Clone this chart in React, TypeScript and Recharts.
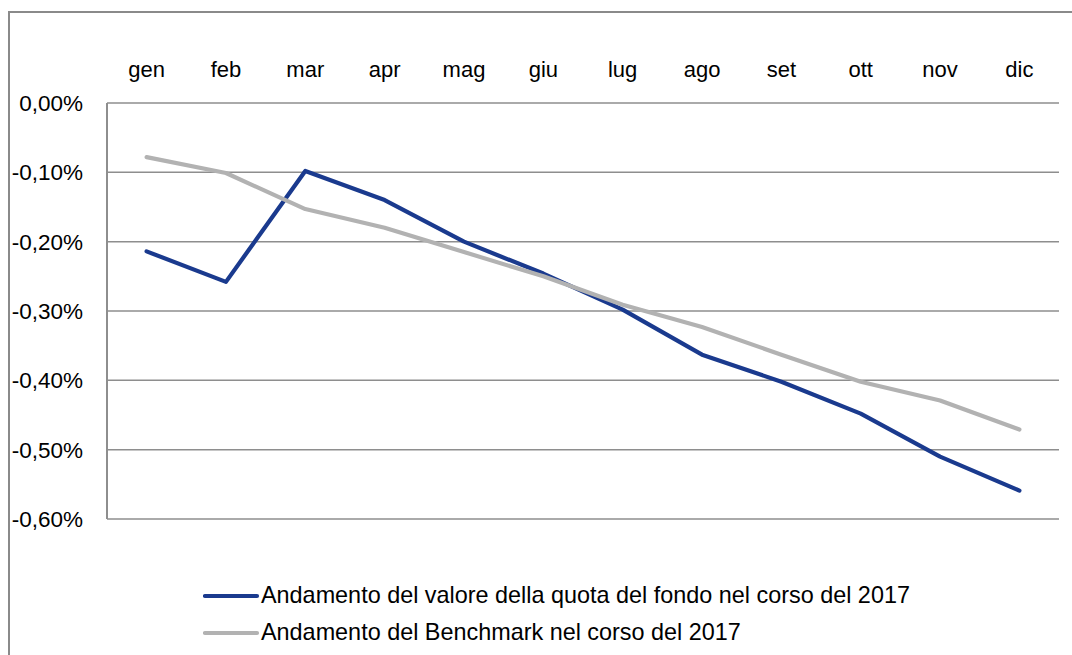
import React from 'react';
import { LineChart, Line, XAxis, YAxis, CartesianGrid, Legend } from 'recharts';

const months = ['gen', 'feb', 'mar', 'apr', 'mag', 'giu', 'lug', 'ago', 'set', 'ott', 'nov', 'dic'];
const fundValues = [-0.214, -0.258, -0.098, -0.140, -0.200, -0.246, -0.298, -0.363, -0.402, -0.448, -0.510, -0.559];
const benchmarkValues = [-0.078, -0.101, -0.153, -0.180, -0.215, -0.250, -0.291, -0.323, -0.363, -0.402, -0.429, -0.471];
const yTicks = [0, -0.1, -0.2, -0.3, -0.4, -0.5, -0.6];
const fundLabel = 'Andamento del valore della quota del fondo nel corso del 2017';
const benchLabel = 'Andamento del Benchmark nel corso del 2017';

const data = months.map((m, i) => ({ month: m, fund: fundValues[i], bench: benchmarkValues[i] }));

const FONT = '"Liberation Sans", Arial, sans-serif';
const BLUE = '#1a3a8e';
const GRAY = '#b2b2b2';
const GRID = '#8e8e8e';

const fmt = (v: number) => {
  const s = Math.abs(v).toFixed(2).replace('.', ',');
  return (v < -1e-9 ? '-' : '') + s + '%';
};

const LegendContent = () => {
  const items = [
    { label: fundLabel, color: BLUE },
    { label: benchLabel, color: GRAY },
  ];
  return (
    <div style={{ fontFamily: FONT, fontSize: 23.4, color: '#000' }}>
      {items.map((it) => (
        <div key={it.label} style={{ display: 'flex', alignItems: 'center', height: 37, whiteSpace: 'nowrap' }}>
          <svg width={58} height={10} style={{ display: 'block' }}>
            <line x1={2} y1={5} x2={54} y2={5} stroke={it.color} strokeWidth={4.2} strokeLinecap="round" />
          </svg>
          <span>{it.label}</span>
        </div>
      ))}
    </div>
  );
};

export default function App() {
  return (
    <div style={{ position: 'absolute', left: 0, top: 0, width: 1072, height: 655, overflow: 'hidden', background: '#fff' }}>
      <div
        style={{
          position: 'absolute',
          left: 8,
          top: 11,
          width: 1070,
          height: 650,
          borderLeft: '2px solid #8a8a8a',
          borderTop: '2px solid #8a8a8a',
        }}
      />
      <div style={{ position: 'absolute', left: 0, top: 0 }}>
        <LineChart width={1072} height={655} data={data} margin={{ top: 63, right: 13, bottom: 136, left: 0 }}>
          <CartesianGrid horizontal vertical={false} stroke={GRID} strokeWidth={1.5} />
          <XAxis
            dataKey="month"
            orientation="top"
            height={40}
            axisLine={false}
            tickLine={false}
            tickSize={0}
            tickMargin={26}
            interval={0}
            padding={{ left: 39.6, right: 39.6 }}
            tick={{ fill: '#000', fontSize: 22, fontFamily: FONT }}
          />
          <YAxis
            type="number"
            domain={[-0.6, 0]}
            ticks={yTicks}
            width={107}
            axisLine={{ stroke: GRID, strokeWidth: 2 }}
            tickLine={false}
            tickSize={0}
            tickMargin={24}
            tickFormatter={fmt}
            tick={{ fill: '#000', fontSize: 22.5, fontFamily: FONT }}
          />
          <Line type="linear" dataKey="fund" name={fundLabel} stroke={BLUE} strokeWidth={4.2} dot={false} strokeLinecap="round" strokeLinejoin="round" isAnimationActive={false} />
          <Line type="linear" dataKey="bench" name={benchLabel} stroke={GRAY} strokeWidth={4.2} dot={false} strokeLinecap="round" strokeLinejoin="round" isAnimationActive={false} />
          <Legend
            layout="vertical"
            align="center"
            verticalAlign="middle"
            content={<LegendContent />}
            wrapperStyle={{ left: 203, top: 577, width: 820 }}
          />
        </LineChart>
      </div>
    </div>
  );
}
